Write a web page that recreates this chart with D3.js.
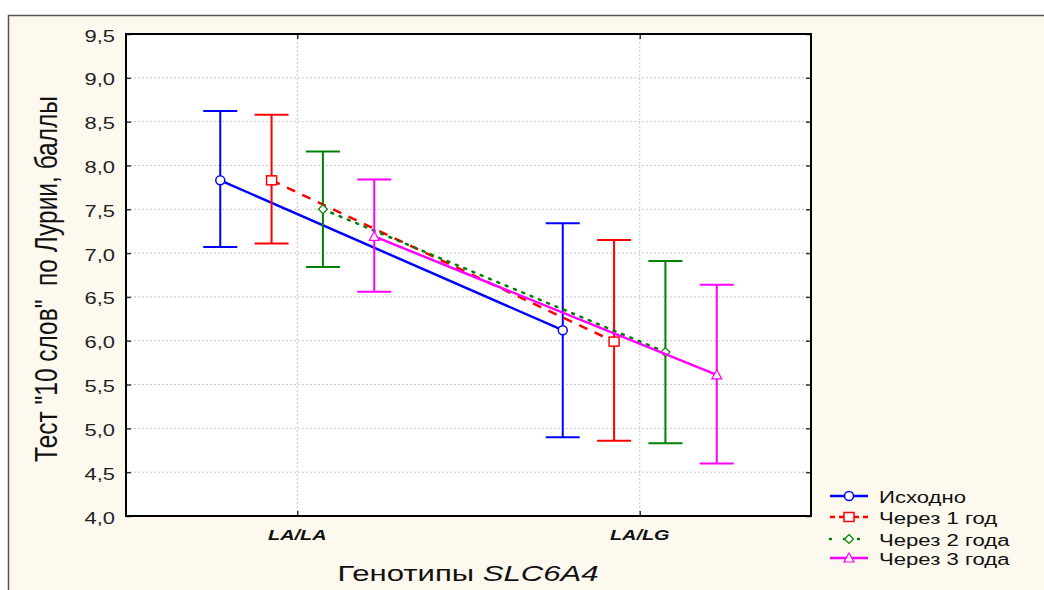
<!DOCTYPE html>
<html><head><meta charset="utf-8">
<script src="https://cdn.jsdelivr.net/npm/d3@7"></script>
<style>
body{margin:0;background:#fff;}
svg{display:block;font-family:Arial,"Liberation Sans",sans-serif;}
</style></head>
<body><svg id="c" width="1044" height="590"></svg>
<script>
const categories = ["LA/LA", "LA/LG"];
const seriesNames = ["Исходно", "Через 1 год", "Через 2 года", "Через 3 года"];
const meanValues = [[7.83, 6.12], [7.83, 5.99], [7.50, 5.87], [7.19, 5.61]];
const upperValues = [[8.62, 7.34], [8.58, 7.15], [8.16, 6.91], [7.84, 6.64]];
const lowerValues = [[7.07, 4.90], [7.11, 4.86], [6.84, 4.83], [6.56, 4.60]];
const yTicks = [4.0, 4.5, 5.0, 5.5, 6.0, 6.5, 7.0, 7.5, 8.0, 8.5, 9.0, 9.5];
const colors = ["#0000ff", "#ff0000", "#008000", "#ff00ff"];
const dashes = [null, "9,8", "2,7", null];
const markers = ["circle", "square", "diamond", "triangle"];

const svg = d3.select("#c");
const W = 1044, H = 590;
const L = 126, R = 811, T = 34, B = 516;
const SX = 1.37; // horizontal text stretch

// outer background + frame
svg.append("rect").attr("x", 8).attr("y", 15).attr("width", W - 8).attr("height", H - 15).attr("fill", "#fdf9ee");
svg.append("line").attr("x1", 8).attr("x2", W).attr("y1", 15.5).attr("y2", 15.5).attr("stroke", "#555").attr("stroke-width", 1.5);
svg.append("line").attr("x1", 8.5).attr("x2", 8.5).attr("y1", 15).attr("y2", H).attr("stroke", "#555").attr("stroke-width", 1.5);
svg.append("rect").attr("x", L).attr("y", T).attr("width", R - L).attr("height", B - T).attr("fill", "#fff");

const y = d3.scaleLinear().domain([4, 9.5]).range([B, T]);
const x = d3.scalePoint().domain(categories).range([L, R]).padding(0.5);
const off = d3.scalePoint().domain(seriesNames).range([-77, 77]);

// grid
const g = svg.append("g");
g.selectAll(".hg").data(yTicks.slice(1, -1)).join("line")
  .attr("x1", L).attr("x2", R).attr("y1", d => y(d)).attr("y2", d => y(d))
  .attr("stroke", "#c8c8c8").attr("stroke-dasharray", "2,2").attr("stroke-width", 1);
g.selectAll(".vg").data(categories).join("line")
  .attr("x1", d => x(d)).attr("x2", d => x(d)).attr("y1", T).attr("y2", B)
  .attr("stroke", "#c8c8c8").attr("stroke-dasharray", "2,2").attr("stroke-width", 1);

// axes (ticks via d3 axes, labels drawn stretched)
function tickOnly(axis, tr) {
  const a = svg.append("g").attr("transform", tr).call(axis);
  a.select(".domain").remove();
  a.selectAll("text").remove();
  a.selectAll("line").attr("stroke", "#333").attr("stroke-width", 1.5);
}
tickOnly(d3.axisLeft(y).tickValues(yTicks).tickSize(-5), `translate(${L},0)`);
tickOnly(d3.axisRight(y).tickValues(yTicks).tickSize(-5), `translate(${R},0)`);
tickOnly(d3.axisBottom(x).tickSize(-5), `translate(0,${B})`);
tickOnly(d3.axisTop(x).tickSize(-5), `translate(0,${T})`);

const fmt = d => d3.format(".1f")(d).replace(".", ",");
svg.append("g").selectAll("text").data(yTicks).join("text")
  .attr("transform", d => `translate(115,${y(d) + 7.5}) scale(${SX},1)`)
  .attr("text-anchor", "end").attr("font-size", 16).attr("fill", "#222").text(fmt);
svg.append("g").selectAll("text").data(categories).join("text")
  .attr("transform", d => `translate(${x(d)},540) scale(${SX},1)`)
  .attr("text-anchor", "middle").attr("font-size", 14.5).attr("font-weight", "bold").attr("font-style", "italic")
  .attr("fill", "#111").text(d => d);

// plot border
svg.append("rect").attr("x", L).attr("y", T).attr("width", R - L).attr("height", B - T)
  .attr("fill", "none").attr("stroke", "#000").attr("stroke-width", 2);

// axis titles
svg.append("text").attr("transform", `translate(57,279) rotate(-90) scale(1,1.25)`)
  .attr("text-anchor", "middle").attr("font-size", 24.5).attr("fill", "#111")
  .attr("xml:space", "preserve").style("white-space", "pre")
  .text('Тест "10 слов"  по Лурии, баллы');
const xt2 = svg.append("text").attr("transform", `translate(468,581) scale(${SX},1)`)
  .attr("text-anchor", "middle").attr("font-size", 22.7).attr("fill", "#111");
xt2.append("tspan").text("Генотипы ");
xt2.append("tspan").attr("font-style", "italic").text("SLC6A4");

function marker(sel, type, color, cx, cy) {
  if (type === "circle") sel.append("circle").attr("cx", cx).attr("cy", cy).attr("r", 4.5).attr("fill", "#fff").attr("stroke", color).attr("stroke-width", 1.5);
  else if (type === "square") sel.append("rect").attr("x", cx - 5).attr("y", cy - 4.5).attr("width", 10).attr("height", 9).attr("fill", "#fff").attr("stroke", color).attr("stroke-width", 1.5);
  else if (type === "diamond") sel.append("path").attr("d", `M${cx},${cy - 4.5}L${cx + 4.5},${cy}L${cx},${cy + 4.5}L${cx - 4.5},${cy}Z`).attr("fill", "#fff").attr("stroke", color).attr("stroke-width", 1.2);
  else sel.append("path").attr("d", `M${cx},${cy - 5}L${cx + 5},${cy + 4}L${cx - 5},${cy + 4}Z`).attr("fill", "#fff").attr("stroke", color).attr("stroke-width", 1.2);
}

// series
seriesNames.forEach((s, i) => {
  const sg = svg.append("g");
  const px = c => x(c) + off(s);
  const line = d3.line().x(d => px(d.c)).y(d => y(d.v));
  const pts = categories.map((c, j) => ({c, v: meanValues[i][j]}));
  sg.append("path").attr("d", line(pts)).attr("fill", "none").attr("stroke", colors[i])
    .attr("stroke-width", 2.5).attr("stroke-dasharray", dashes[i]).attr("stroke-linecap", i === 2 ? "round" : "butt");
  categories.forEach((c, j) => {
    const cx = px(c);
    sg.append("line").attr("x1", cx).attr("x2", cx).attr("y1", y(upperValues[i][j])).attr("y2", y(lowerValues[i][j])).attr("stroke", colors[i]).attr("stroke-width", 2);
    [upperValues[i][j], lowerValues[i][j]].forEach(v => {
      sg.append("line").attr("x1", cx - 17).attr("x2", cx + 17).attr("y1", y(v)).attr("y2", y(v)).attr("stroke", colors[i]).attr("stroke-width", 2);
    });
  });
  categories.forEach((c, j) => marker(sg, markers[i], colors[i], px(c), y(meanValues[i][j])));
});

// legend
const lg = svg.append("g");
const legendY = [496, 517, 539, 558];
seriesNames.forEach((s, i) => {
  const ly = legendY[i];
  lg.append("line").attr("x1", 830).attr("x2", 868).attr("y1", ly).attr("y2", ly).attr("stroke", colors[i])
    .attr("stroke-width", 2.5).attr("stroke-dasharray", i === 1 ? "5,4,20,4" : (i === 2 ? "1,13" : null)).attr("stroke-linecap", i === 2 ? "round" : "butt");
  marker(lg, markers[i], colors[i], 849, ly);
  lg.append("text").attr("transform", `translate(879,${ly + 6.5}) scale(1.4,1)`)
    .attr("font-size", 15.8).attr("fill", "#111").text(s);
});
</script></body></html>
